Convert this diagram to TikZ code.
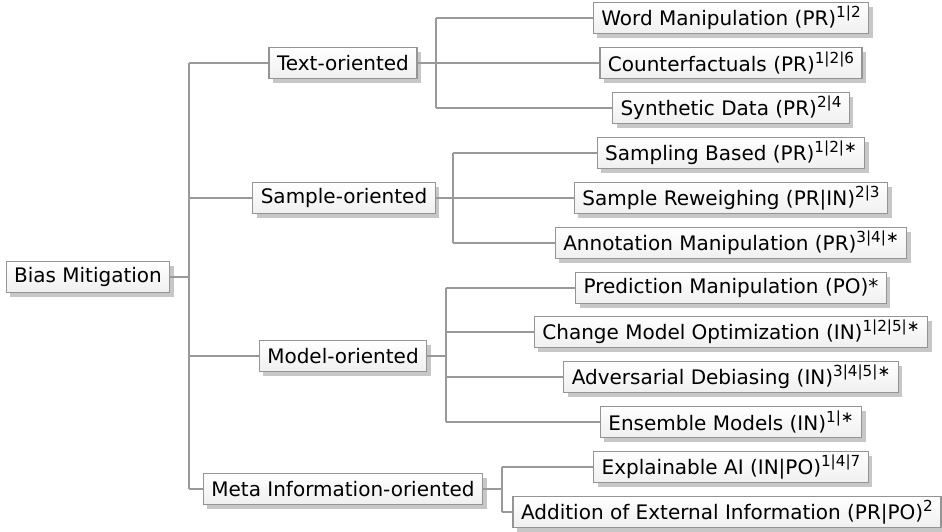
\documentclass[tikz,border=0pt]{standalone}
\usepackage{fontspec}
\setmainfont{DejaVu Sans}
\usetikzlibrary{shadows}
\definecolor{boxline}{gray}{0.58}
\definecolor{linegray}{gray}{0.6}
\definecolor{shadowgray}{gray}{0.78}
% reference marks behind each method
\newcommand{\refmarks}[1]{\raisebox{0.42em}{\fontsize{7.6}{8}\selectfont #1}}
\tikzset{
  % Specifications for style of nodes:
  base/.style = {
    rectangle,
    draw=boxline,
    line width=0.6pt,
    top color=white,
    bottom color=gray!12,
    text centered,
    font=\fontsize{10}{12}\selectfont,
    inner xsep=4pt,
    inner ysep=0pt,
    minimum height=15.5pt,
    drop shadow={shadow xshift=2pt, shadow yshift=-2pt,
                 fill=shadowgray, opacity=1}
  },
  topic/.style = {
    base
  },
  group/.style = {
    base
  },
  method/.style = {
    base
  },
  link/.style = {
    draw=linegray,
    line width=0.8pt
  },
}

\begin{document}
\begin{tikzpicture}[x=0.5pt, y=-0.5pt]
    \useasboundingbox (0,0) rectangle (942,531);
    % Specification of nodes (position, etc.)
    \node[topic]  (bias)   at (88,277)  {Bias Mitigation};
    \node[group]  (text)   at (343,63)  {Text-oriented};
    \node[group]  (sample) at (344,198) {Sample-oriented};
    \node[group]  (model)  at (343,356) {Model-oriented};
    \node[group]  (meta)   at (343,489) {Meta Information-oriented};
    \node[method] (word)     at (731,18)  {Word Manipulation (PR)\refmarks{1|2}};
    \node[method] (counter)  at (731,63)  {Counterfactuals (PR)\refmarks{1|2|6}};
    \node[method] (synth)    at (731,108) {Synthetic Data (PR)\refmarks{2|4}};
    \node[method] (sampling) at (731,153) {Sampling Based (PR)\refmarks{1|2|∗}};
    \node[method] (reweigh)  at (731,198) {Sample Reweighing (PR|IN)\refmarks{2|3}};
    \node[method] (annot)    at (731,243) {Annotation Manipulation (PR)\refmarks{3|4|∗}};
    \node[method] (predict)  at (731,288) {Prediction Manipulation (PO)*};
    \node[method] (optim)    at (731,332) {Change Model Optimization (IN)\refmarks{1|2|5|∗}};
    \node[method] (advers)   at (731,377) {Adversarial Debiasing (IN)\refmarks{3|4|5|∗}};
    \node[method] (ensemble) at (731,422) {Ensemble Models (IN)\refmarks{1|∗}};
    \node[method] (explain)  at (731,467) {Explainable AI (IN|PO)\refmarks{1|4|7}};
    \node[method] (external) at (727,512) {Addition of External Information (PR|PO)\refmarks{2}};
    % Bus lines
    \coordinate (trunk)     at (189,0);
    \coordinate (textbus)   at (436,0);
    \coordinate (samplebus) at (453,0);
    \coordinate (modelbus)  at (446,0);
    \coordinate (metabus)   at (502,0);
    \draw[link] (bias.east) -- (bias.east -| trunk);
    \draw[link] (trunk |- text) -- (trunk |- meta);
    \foreach \g in {text,sample,model,meta}
      \draw[link] (trunk |- \g) -- (\g.west);
    \draw[link] (text.east) -- (textbus |- text);
    \draw[link] (textbus |- word) -- (textbus |- synth);
    \foreach \m in {word,counter,synth}
      \draw[link] (textbus |- \m) -- (\m.west);
    \draw[link] (sample.east) -- (samplebus |- sample);
    \draw[link] (samplebus |- sampling) -- (samplebus |- annot);
    \foreach \m in {sampling,reweigh,annot}
      \draw[link] (samplebus |- \m) -- (\m.west);
    \draw[link] (model.east) -- (modelbus |- model);
    \draw[link] (modelbus |- predict) -- (modelbus |- ensemble);
    \foreach \m in {predict,optim,advers,ensemble}
      \draw[link] (modelbus |- \m) -- (\m.west);
    \draw[link] (meta.east) -- (metabus |- meta);
    \draw[link] (metabus |- explain) -- (metabus |- external);
    \foreach \m in {explain,external}
      \draw[link] (metabus |- \m) -- (\m.west);
\end{tikzpicture}
\end{document}
